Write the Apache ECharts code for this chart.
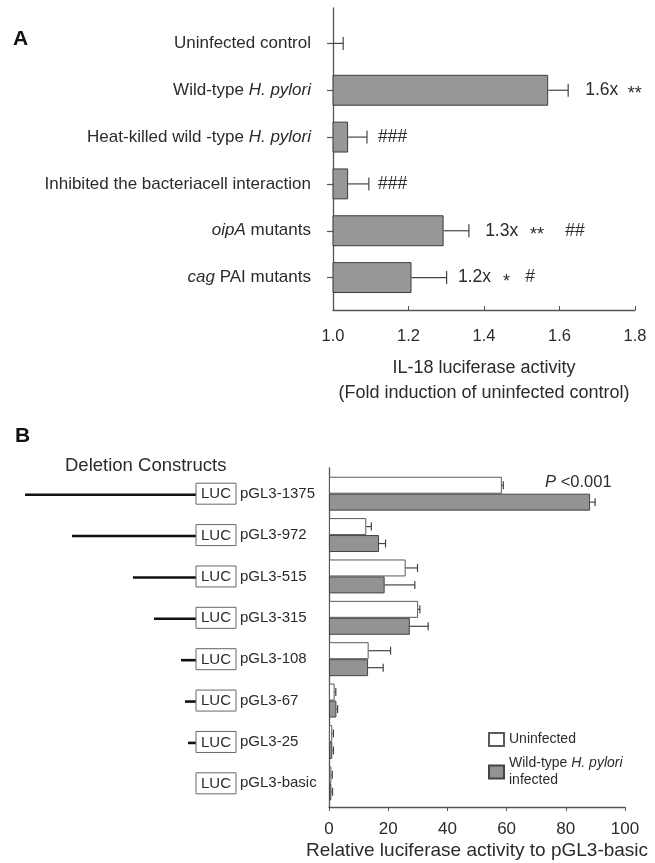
<!DOCTYPE html>
<html><head><meta charset="utf-8">
<script src="https://cdn.jsdelivr.net/npm/echarts@6/dist/echarts.min.js"></script>
<style>html,body{margin:0;padding:0;background:#fff}#c{width:655px;height:863px}</style>
</head><body><div id="c"></div>
<script>
// ---------- Panel A data ----------
const catsA = ['Uninfected control', 'Wild-type H. pylori', 'Heat-killed wild -type H. pylori',
  'Inhibited the bacteriacell interaction', 'oipA mutants', 'cag PAI mutants'];
const richLabelsA = ['Uninfected control', 'Wild-type {i|H. pylori}', 'Heat-killed wild -type {i|H. pylori}',
  'Inhibited the bacteriacell interaction', '{i|oipA} mutants', '{i|cag} PAI mutants'];
const valuesA = [1.0, 1.57, 1.04, 1.04, 1.293, 1.208];
const errorsA = [0.027, 0.053, 0.05, 0.055, 0.067, 0.093];
const ticksA = [1.0, 1.2, 1.4, 1.6, 1.8];
// annotation text: [x position (fold), category index, text]
const notesA = [
  [1.668, 1, '1.6x'], [1.781, 1, '**'],
  [1.119, 2, '###'], [1.119, 3, '###'],
  [1.403, 4, '1.3x'], [1.522, 4, '**'], [1.615, 4, '##'],
  [1.331, 5, '1.2x'], [1.450, 5, '*'], [1.509, 5, '#']
];

// ---------- Panel B data ----------
const catsB = ['pGL3-1375', 'pGL3-972', 'pGL3-515', 'pGL3-315', 'pGL3-108', 'pGL3-67', 'pGL3-25', 'pGL3-basic'];
const uninfB = [58.4, 12.6, 25.9, 30.1, 13.4, 1.9, 1.1, 0.8];
const uninfErrB = [0.5, 1.7, 4.0, 0.6, 7.4, 0.4, 0.4, 0.3];
const infB = [88.2, 16.9, 18.8, 27.3, 13.2, 2.5, 1.1, 0.8];
const infErrB = [1.7, 2.2, 10.2, 6.2, 5.1, 0.4, 0.4, 0.4];
const ticksB = [0, 20, 40, 60, 80, 100];
// drawn promoter line lengths of the schematic (bp scale)
const constructLen = [1375, 1000, 512, 344, 128, 96, 72, 0];
const notesB = [[73, 0, '{i|P} <0.001']];

const FONT = "'Liberation Sans', Arial, Helvetica, sans-serif";
const TXT = '#2b2b2b';
const AX = '#555';

const chart = echarts.init(document.getElementById('c'), null, {renderer: 'canvas'});

function errRender(sign, gapRatio, nSeries, capH) {
  return function (params, api) {
    const v = api.value(0), e = api.value(1), idx = api.value(2);
    const band = api.size([0, 1])[1];
    const barW = band * (1 - gapRatio) / nSeries;
    const off = sign * barW / 2;
    const a = api.coord([v, idx]), b = api.coord([v + e, idx]);
    const y = a[1] + off;
    return {type: 'group', children: [
      {type: 'line', shape: {x1: a[0], y1: y, x2: b[0], y2: y}, style: {stroke: '#444', lineWidth: 1.2}},
      {type: 'line', shape: {x1: b[0], y1: y - capH / 2, x2: b[0], y2: y + capH / 2}, style: {stroke: '#444', lineWidth: 1.2}}
    ]};
  };
}

function noteRender(list, fontSize, dy) {
  return function (params, api) {
    const p = api.coord([api.value(0), api.value(1)]);
    const t = list[params.dataIndex][2];
    const isStar = t.indexOf('*') >= 0;
    return {type: 'text', x: p[0], y: p[1] + dy + (isStar ? 4 : 0), style: {
      text: t, fill: TXT, align: 'left', verticalAlign: 'middle',
      font: (isStar ? '18px ' + FONT : fontSize + 'px ' + FONT),
      rich: {i: {fontStyle: 'italic', fontSize: fontSize, fontFamily: FONT, fill: TXT}}
    }};
  };
}

function constructRender(params, api) {
  const len = api.value(0), idx = api.value(1);
  const p0 = api.coord([-len, idx]);
  const p1 = api.coord([0, idx]);
  const ch = [];
  if (len > 0) ch.push({type: 'line', shape: {x1: p0[0], y1: p0[1] + 1, x2: p1[0], y2: p1[1] + 1}, style: {stroke: '#111', lineWidth: 2.6}});
  ch.push({type: 'rect', shape: {x: p1[0] - 1, y: p1[1] - 10.5, width: 40, height: 21}, style: {fill: '#fff', stroke: '#666', lineWidth: 1}});
  ch.push({type: 'text', x: p1[0] + 19, y: p1[1] + 0.5, style: {text: 'LUC', font: '15px ' + FONT, fill: TXT, align: 'center', verticalAlign: 'middle'}});
  return {type: 'group', children: ch};
}

const option = {
  backgroundColor: '#fff',
  animation: false,
  textStyle: {fontFamily: FONT},
  graphic: [
    {type: 'text', left: 13, top: 29, style: {text: 'A', font: 'bold 21px ' + FONT, fill: '#111'}},
    {type: 'text', left: 15, top: 426, style: {text: 'B', font: 'bold 21px ' + FONT, fill: '#111'}},
    {type: 'text', left: 65, top: 456, style: {text: 'Deletion Constructs', font: '18.5px ' + FONT, fill: TXT}}
  ],
  legend: {
    orient: 'vertical', left: 483, top: 726, itemWidth: 15, itemHeight: 13, itemGap: 7,
    selectedMode: false, icon: 'rect',
    data: ['Uninfected', 'Wild-type H. pylori infected'],
    formatter: function (n) { return n === 'Uninfected' ? '{n|Uninfected}' : '{n|Wild-type }{i|H. pylori}\n{n|infected}'; },
    textStyle: {color: TXT, fontSize: 14, fontFamily: FONT, lineHeight: 17,
      rich: {n: {fontSize: 14, lineHeight: 17, color: TXT, fontFamily: FONT},
             i: {fontSize: 14, lineHeight: 17, color: TXT, fontFamily: FONT, fontStyle: 'italic'}}}
  },
  grid: [
    {left: 333, right: 20, top: 8, bottom: 863 - 310},   // 0: frame A
    {left: 333, right: 20, top: 20, height: 281},         // 1: data A
    {left: 329, right: 30, top: 468, bottom: 863 - 807},  // 2: frame B
    {left: 329, right: 30, top: 473, height: 331},        // 3: data B
    {left: 25, width: 172, top: 473, height: 331}         // 4: constructs
  ],
  xAxis: [
    {gridIndex: 0, type: 'value', min: ticksA[0], max: ticksA[ticksA.length - 1], interval: 0.2,
      axisLine: {show: true, lineStyle: {color: AX, width: 1.3}},
      axisTick: {show: true, inside: true, length: 4, lineStyle: {color: AX}},
      axisLabel: {color: TXT, fontSize: 16.5, margin: 18, formatter: v => v.toFixed(1)},
      splitLine: {show: false},
      name: 'IL-18 luciferase activity\n(Fold induction of uninfected control)',
      nameLocation: 'middle', nameGap: 46,
      nameTextStyle: {color: TXT, fontSize: 18, lineHeight: 25, fontFamily: FONT}},
    {gridIndex: 1, type: 'value', min: ticksA[0], max: ticksA[ticksA.length - 1], show: false},
    {gridIndex: 2, type: 'value', min: ticksB[0], max: ticksB[ticksB.length - 1], interval: 20,
      axisLine: {show: true, lineStyle: {color: AX, width: 1.3}},
      axisTick: {show: true, inside: false, length: 4, lineStyle: {color: AX}},
      axisLabel: {color: TXT, fontSize: 17, margin: 14},
      splitLine: {show: false},
      name: 'Relative luciferase activity to pGL3-basic',
      nameLocation: 'middle', nameGap: 34,
      nameTextStyle: {color: TXT, fontSize: 19, fontFamily: FONT}},
    {gridIndex: 3, type: 'value', min: ticksB[0], max: ticksB[ticksB.length - 1], show: false},
    {gridIndex: 4, type: 'value', min: -1375, max: 0, show: false}
  ],
  yAxis: [
    {gridIndex: 0, type: 'value', min: 0, max: 1, axisLine: {show: true, lineStyle: {color: AX, width: 1.3}},
      axisTick: {show: false}, axisLabel: {show: false}, splitLine: {show: false}},
    {gridIndex: 1, type: 'category', data: catsA, inverse: true,
      axisLine: {show: false},
      axisTick: {show: true, alignWithLabel: true, length: 6, lineStyle: {color: AX, width: 1.2}},
      axisLabel: {color: TXT, fontSize: 17, margin: 22,
        formatter: (v, i) => richLabelsA[i],
        rich: {i: {fontStyle: 'italic', fontSize: 17, color: TXT, fontFamily: FONT}}}},
    {gridIndex: 2, type: 'value', min: 0, max: 1, axisLine: {show: true, lineStyle: {color: AX, width: 1.3}},
      axisTick: {show: false}, axisLabel: {show: false}, splitLine: {show: false}},
    {gridIndex: 3, type: 'category', data: catsB, inverse: true,
      axisLine: {show: false}, axisTick: {show: false},
      axisLabel: {color: TXT, fontSize: 15, margin: 89, align: 'left'}},
    {gridIndex: 4, type: 'category', data: catsB, inverse: true, show: false}
  ],
  series: [
    {type: 'bar', name: 'A', xAxisIndex: 1, yAxisIndex: 1, data: valuesA, barCategoryGap: '34%',
      itemStyle: {color: '#979797', borderColor: '#3c3c3c', borderWidth: 1}},
    {type: 'custom', xAxisIndex: 1, yAxisIndex: 1, renderItem: errRender(0, 0.34, 1, 13),
      data: valuesA.map((v, i) => [v, errorsA[i], i]), encode: {x: [0, 1], y: 2}, z: 3},
    {type: 'custom', xAxisIndex: 1, yAxisIndex: 1, renderItem: noteRender(notesA, 17.5, 0),
      data: notesA.map(d => [d[0], d[1]]), encode: {x: 0, y: 1}, z: 4},

    {type: 'bar', name: 'Uninfected', xAxisIndex: 3, yAxisIndex: 3, data: uninfB,
      barGap: '0%', barCategoryGap: '18%',
      itemStyle: {color: '#ffffff', borderColor: '#5a5a5a', borderWidth: 1}},
    {type: 'bar', name: 'Wild-type H. pylori infected', xAxisIndex: 3, yAxisIndex: 3, data: infB,
      barGap: '0%', barCategoryGap: '18%',
      itemStyle: {color: '#939393', borderColor: '#444', borderWidth: 1}},
    {type: 'custom', xAxisIndex: 3, yAxisIndex: 3, renderItem: errRender(-1, 0.18, 2, 8),
      data: uninfB.map((v, i) => [v, uninfErrB[i], i]), encode: {x: [0, 1], y: 2}, z: 3},
    {type: 'custom', xAxisIndex: 3, yAxisIndex: 3, renderItem: errRender(1, 0.18, 2, 8),
      data: infB.map((v, i) => [v, infErrB[i], i]), encode: {x: [0, 1], y: 2}, z: 3},
    {type: 'custom', xAxisIndex: 3, yAxisIndex: 3, renderItem: noteRender(notesB, 16.5, -11),
      data: notesB.map(d => [d[0], d[1]]), encode: {x: 0, y: 1}, z: 4},

    {type: 'custom', xAxisIndex: 4, yAxisIndex: 4, renderItem: constructRender,
      data: constructLen.map((v, i) => [v, i]), encode: {x: 0, y: 1}, z: 4}
  ]
};
chart.setOption(option);
</script>
</body></html>
